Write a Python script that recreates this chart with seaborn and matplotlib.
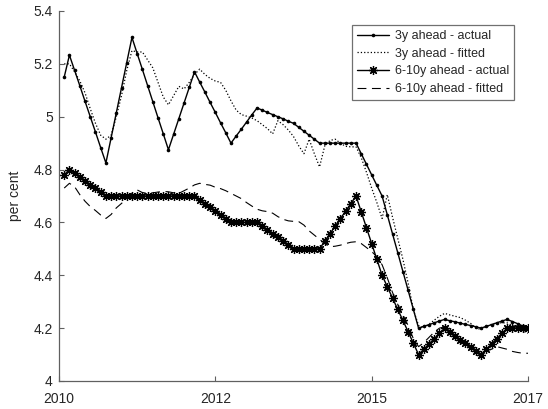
import numpy as np
import pandas as pd
import matplotlib
matplotlib.use("Agg")
import matplotlib.pyplot as plt
import seaborn as sns

# Monthly observations, numbered from the start of the sample
months = np.arange(1, 91)

# Inflation expectations, 3 years ahead (survey)
exp_3y_actual = [
    5.150, 5.233, 5.175, 5.117, 5.058, 5.000, 4.942, 4.883, 4.825, 4.920,
    5.015, 5.110, 5.205, 5.300, 5.239, 5.179, 5.118, 5.057, 4.996, 4.936,
    4.875, 4.934, 4.993, 5.052, 5.111, 5.170, 5.131, 5.093, 5.054, 5.016,
    4.977, 4.939, 4.900, 4.927, 4.953, 4.980, 5.007, 5.033, 5.025, 5.016,
    5.008, 5.000, 4.992, 4.983, 4.975, 4.960, 4.945, 4.930, 4.915, 4.900,
    4.900, 4.900, 4.900, 4.900, 4.900, 4.900, 4.900, 4.860, 4.820, 4.780,
    4.740, 4.700, 4.629, 4.557, 4.486, 4.414, 4.343, 4.271, 4.200, 4.207,
    4.213, 4.220, 4.227, 4.233, 4.228, 4.224, 4.219, 4.214, 4.210, 4.205,
    4.200, 4.207, 4.213, 4.220, 4.227, 4.233, 4.225, 4.217, 4.208, 4.200,
]

# Model-fitted 3 years ahead
exp_3y_fitted = [
    5.200, 5.200, 5.170, 5.135, 5.090, 5.030, 4.975, 4.930, 4.915, 4.930,
    5.000, 5.080, 5.175, 5.250, 5.245, 5.245, 5.215, 5.185, 5.130, 5.075,
    5.045, 5.080, 5.115, 5.105, 5.130, 5.160, 5.180, 5.160, 5.145, 5.135,
    5.130, 5.100, 5.060, 5.025, 5.008, 5.002, 4.995, 4.985, 4.970, 4.955,
    4.935, 4.985, 4.970, 4.950, 4.925, 4.890, 4.860, 4.915, 4.860, 4.810,
    4.890, 4.910, 4.915, 4.900, 4.888, 4.886, 4.886, 4.845, 4.790, 4.730,
    4.675, 4.615, 4.705, 4.620, 4.540, 4.460, 4.370, 4.270, 4.210, 4.200,
    4.215, 4.230, 4.245, 4.256, 4.250, 4.245, 4.240, 4.230, 4.218, 4.200,
    4.195, 4.205, 4.215, 4.220, 4.220, 4.220, 4.210, 4.200, 4.190, 4.180,
]

# Inflation expectations, 6-10 years ahead (survey)
exp_610y_actual = [
    4.780, 4.800, 4.786, 4.771, 4.757, 4.743, 4.729, 4.714, 4.700, 4.700,
    4.700, 4.700, 4.700, 4.700, 4.700, 4.700, 4.700, 4.700, 4.700, 4.700,
    4.700, 4.700, 4.700, 4.700, 4.700, 4.700, 4.686, 4.671, 4.657, 4.643,
    4.629, 4.614, 4.600, 4.600, 4.600, 4.600, 4.600, 4.600, 4.586, 4.571,
    4.557, 4.543, 4.529, 4.514, 4.500, 4.500, 4.500, 4.500, 4.500, 4.500,
    4.529, 4.557, 4.586, 4.614, 4.643, 4.671, 4.700, 4.640, 4.580, 4.520,
    4.460, 4.400, 4.357, 4.314, 4.271, 4.229, 4.186, 4.143, 4.100, 4.120,
    4.140, 4.160, 4.180, 4.200, 4.186, 4.171, 4.157, 4.143, 4.129, 4.114,
    4.100, 4.120, 4.140, 4.160, 4.180, 4.200, 4.200, 4.200, 4.200, 4.200,
]

# Model-fitted 6-10 years ahead
exp_610y_fitted = [
    4.730, 4.748, 4.735, 4.705, 4.680, 4.660, 4.645, 4.628, 4.615, 4.630,
    4.655, 4.672, 4.690, 4.710, 4.723, 4.713, 4.710, 4.712, 4.715, 4.717,
    4.716, 4.712, 4.710, 4.720, 4.730, 4.742, 4.748, 4.744, 4.741, 4.733,
    4.728, 4.720, 4.710, 4.700, 4.690, 4.675, 4.662, 4.650, 4.644, 4.641,
    4.635, 4.622, 4.612, 4.606, 4.604, 4.603, 4.590, 4.568, 4.552, 4.536,
    4.520, 4.508, 4.510, 4.514, 4.520, 4.525, 4.527, 4.520, 4.505, 4.490,
    4.470, 4.440, 4.390, 4.335, 4.290, 4.250, 4.210, 4.160, 4.130, 4.145,
    4.165, 4.185, 4.200, 4.205, 4.190, 4.170, 4.160, 4.140, 4.130, 4.115,
    4.110, 4.115, 4.120, 4.130, 4.125, 4.120, 4.112, 4.108, 4.105, 4.105,
]

series_labels = ["3y ahead - actual", "3y ahead - fitted",
                 "6-10y ahead - actual", "6-10y ahead - fitted"]

x_tick_pos = [0, 30, 60, 90]
x_tick_labels = ["2010", "2012", "2015", "2017"]
y_ticks = [4.0, 4.2, 4.4, 4.6, 4.8, 5.0, 5.2, 5.4]
y_tick_labels = ["4", "4.2", "4.4", "4.6", "4.8", "5", "5.2", "5.4"]

sns.set_style("ticks")
plt.rcParams["font.family"] = ["Liberation Sans", "DejaVu Sans"]

df = pd.DataFrame({
    "month": months,
    "a3": exp_3y_actual,
    "f3": exp_3y_fitted,
    "a610": exp_610y_actual,
    "f610": exp_610y_fitted,
})

fig = plt.figure(figsize=(5.48, 4.09), dpi=100)
ax = fig.add_axes([59 / 548, 28 / 409, 469 / 548, 370 / 409])

sns.lineplot(data=df, x="month", y="a3", ax=ax, color="black", lw=1.0,
             marker="o", markersize=2.6, markeredgewidth=0,
             markeredgecolor="black", label=series_labels[0])
sns.lineplot(data=df, x="month", y="f3", ax=ax, color="black", lw=0.9,
             linestyle=":", label=series_labels[1])
sns.lineplot(data=df, x="month", y="a610", ax=ax, color="black", lw=1.0,
             marker=(8, 2, 0), markersize=6.5, markeredgewidth=0.9,
             markeredgecolor="black", label=series_labels[2])
sns.lineplot(data=df, x="month", y="f610", ax=ax, color="black", lw=0.8,
             linestyle=(0, (8, 5)), label=series_labels[3])

ax.set_xlim(0, 90)
ax.set_ylim(4.0, 5.4)
ax.set_xticks(x_tick_pos)
ax.set_xticklabels(x_tick_labels)
ax.set_yticks(y_ticks)
ax.set_yticklabels(y_tick_labels)
ax.set_xlabel("")
ax.set_ylabel("per cent", fontsize=10, color="#262626", labelpad=8)

sns.despine(ax=ax)
for side in ("left", "bottom"):
    ax.spines[side].set_color("#606060")
    ax.spines[side].set_linewidth(0.9)
ax.tick_params(direction="in", length=3.5, width=0.8, color="#606060",
               labelsize=10, labelcolor="#262626")
ax.tick_params(axis="x", pad=8)
ax.tick_params(axis="y", pad=4.5)

leg = ax.legend(loc="upper right", bbox_to_anchor=(0.970, 0.962),
                fontsize=9.0, frameon=True, fancybox=False, framealpha=1,
                edgecolor="#707070", handlelength=2.6, handletextpad=0.45,
                labelspacing=0.45, borderpad=0.4, borderaxespad=0)
leg.get_frame().set_linewidth(0.9)

fig.savefig("out.png", dpi=100)
